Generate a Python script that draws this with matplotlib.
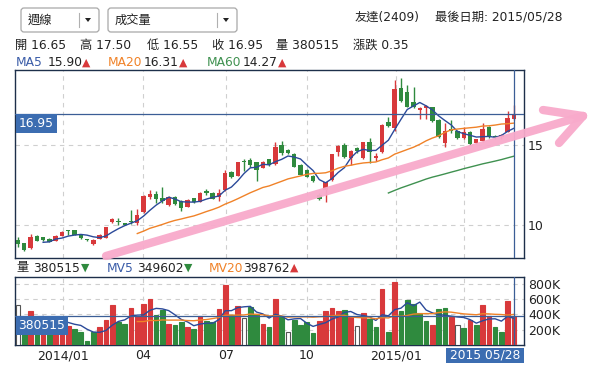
import numpy as np
import pandas as pd
import matplotlib
matplotlib.use('Agg')
import matplotlib.pyplot as plt
from matplotlib.patches import Rectangle, FancyBboxPatch, Polygon

plt.rcParams['font.family'] = ['DejaVu Sans', 'Noto Sans CJK TC']

W, H = 590, 374

# weekly candles, 2013/11 .. 2015/05/28
opens = [9.06, 8.85, 8.54, 9.33, 9.23, 9.13, 9.02, 9.33, 9.67, 9.69,
         9.38, 9.10, 8.81, 9.13, 9.21, 10.17, 10.27, 10.10, 10.27, 10.15,
         10.79, 11.73, 11.92, 11.67, 11.25, 11.77, 11.50, 11.15, 11.67, 11.46,
         12.15, 12.02, 11.73, 12.19, 13.33, 13.08, 14.00, 14.06, 13.92, 13.58,
         14.13, 13.79, 15.00, 14.69, 14.44, 13.75, 13.44, 13.06, 11.90, 12.19,
         12.80, 14.55, 15.00, 14.17, 14.83, 14.21, 15.21, 14.17, 14.54, 16.46,
         16.04, 18.54, 18.33, 17.71, 17.19, 17.29, 17.35, 16.56, 15.10, 16.02,
         15.88, 15.46, 15.79, 15.10, 15.25, 16.15, 15.55, 15.50, 15.83, 16.65]
highs = [9.25, 8.90, 9.42, 9.40, 9.27, 9.17, 9.35, 9.63, 9.69, 9.71,
         9.42, 9.12, 9.10, 9.42, 9.90, 10.45, 10.44, 10.12, 10.94, 10.98,
         11.85, 12.20, 12.10, 12.40, 11.80, 11.80, 11.55, 11.60, 11.70, 12.05,
         12.25, 12.05, 12.25, 13.45, 13.40, 13.95, 14.15, 14.20, 13.92, 14.00,
         14.15, 15.20, 15.25, 14.75, 14.50, 13.80, 13.50, 13.10, 12.00, 12.70,
         14.45, 15.00, 15.10, 14.70, 14.90, 15.20, 15.42, 14.48, 16.30, 16.77,
         19.06, 19.17, 18.75, 18.65, 17.40, 17.50, 17.40, 16.60, 16.35, 16.56,
         15.95, 16.13, 15.85, 15.40, 16.35, 16.20, 15.60, 15.70, 17.10, 17.50]
lows = [8.60, 8.40, 8.50, 8.98, 9.00, 8.94, 8.98, 9.30, 9.40, 9.35,
        9.15, 8.98, 8.77, 9.10, 9.20, 10.10, 10.00, 9.98, 10.05, 10.00,
        10.75, 11.60, 11.35, 11.40, 11.20, 11.25, 10.85, 11.10, 11.40, 11.42,
        11.90, 11.60, 11.50, 12.15, 12.95, 13.05, 13.40, 13.65, 12.75, 13.55,
        13.70, 13.75, 14.40, 14.45, 13.60, 13.10, 13.00, 12.70, 11.55, 11.46,
        12.75, 14.30, 14.20, 13.75, 14.50, 14.15, 13.90, 14.00, 14.50, 16.15,
        15.90, 17.70, 17.35, 17.30, 16.60, 16.60, 16.45, 15.45, 14.90, 15.75,
        15.38, 15.40, 15.00, 15.05, 15.20, 15.45, 15.35, 15.40, 15.80, 16.55]
closes = [8.81, 8.44, 9.27, 9.02, 9.06, 8.96, 9.31, 9.58, 9.63, 9.38,
          9.17, 9.08, 9.06, 9.38, 9.88, 10.38, 10.17, 10.00, 10.17, 10.63,
          11.83, 11.96, 11.63, 11.50, 11.77, 11.29, 11.08, 11.56, 11.46, 12.02,
          11.98, 11.63, 11.98, 13.27, 13.02, 13.92, 13.92, 13.75, 13.44, 13.96,
          13.75, 14.90, 14.48, 14.48, 13.65, 13.13, 13.02, 12.75, 11.63, 12.67,
          14.42, 14.96, 14.27, 14.63, 14.63, 15.17, 14.58, 14.31, 16.25, 16.21,
          18.50, 17.75, 17.40, 17.35, 17.29, 17.46, 16.50, 15.52, 15.90, 15.90,
          15.42, 15.79, 15.04, 15.35, 16.00, 15.52, 15.50, 15.60, 16.67, 16.95]
volumes = [526, 300, 440, 280, 320, 250, 300, 350, 250, 203,
           175, 49, 167, 233, 321, 518, 299, 268, 487, 378,
           531, 597, 396, 452, 268, 255, 299, 233, 203, 378,
           308, 299, 466, 782, 387, 505, 351, 496, 408, 268,
           233, 601, 365, 176, 329, 255, 299, 154, 308, 440,
           488, 440, 453, 365, 242, 422, 343, 233, 729, 176,
           825, 440, 584, 532, 418, 308, 255, 466, 488, 365,
           255, 220, 330, 255, 518, 374, 233, 176, 571, 380.515]
volumes = [v * 1000 for v in volumes]
# r = up vs previous close, g = down, w = unchanged
vol_dir = ('wgrgrgrrrg' 'gggrrrggrr' 'rrggrggrgr' 'ggrrgrwggr'
           'grgwggggrr' 'rrgrwrggrg' 'rgggggrggr' 'wgrgrrggrr')

tick_pos = [7.2, 19.9, 33.1, 46.0, 60.2, 71.0]
# the last month label sits under the date tag
tick_labels = ['2014/01', '04', '07', '10', '2015/01', '']
price_ticks = [10, 15]
vol_ticks = [200000, 400000, 600000, 800000]
vol_tick_labels = ['200K', '400K', '600K', '800K']

RED = '#d8393b'
GREEN = '#2f8a3e'
BLUE = '#2b4a9a'
ORANGE = '#f08228'
MGREEN = '#3f9150'
FRAME = '#1d2f4a'
CURSOR = '#3b5e96'
LABELBG = '#3c6db1'
PINK = '#f8aacb'
GRID = '#cfcfcf'

n = len(closes)
idx = np.arange(n)
cs = pd.Series(closes)
ma5 = cs.rolling(5).mean()
ma20 = cs.rolling(20).mean()
ma60 = cs.rolling(60).mean()
vs = pd.Series(volumes)
mv5 = vs.rolling(5).mean()
mv20 = vs.rolling(20).mean()


def box(x0, y0, x1, y1):
    return [x0 / W, 1 - y1 / H, (x1 - x0) / W, (y1 - y0) / H]


fig = plt.figure(figsize=(W / 100, H / 100), dpi=100)
fig.patch.set_facecolor('white')

xlim = (-0.48, 80.6)

# price panel
ax1 = fig.add_axes(box(15, 70, 524, 258))
ax1.set_xlim(*xlim)
ax1.set_ylim(7.94, 19.69)
ax1.set_axisbelow(True)
ax1.grid(True, ls=(0, (4, 4)), color=GRID, lw=0.8)
ax1.set_xticks(tick_pos)
ax1.set_xticklabels([])
ax1.set_yticks(price_ticks)
ax1.yaxis.tick_right()
ax1.tick_params(length=0, labelsize=9, colors='#222222', pad=3)
for s in ax1.spines.values():
    s.set_color(FRAME)
    s.set_linewidth(1)

for i in range(n):
    o, h, l, c = opens[i], highs[i], lows[i], closes[i]
    col = RED if c >= o else GREEN
    ax1.vlines(i, l, h, color=col, lw=1, zorder=3)
    ax1.bar(i, max(abs(c - o), 0.04), bottom=min(o, c), width=0.7,
            color=col, zorder=3)
ax1.plot(idx, ma5, color=BLUE, lw=1, zorder=4)
ax1.plot(idx, ma20, color=ORANGE, lw=1, zorder=4)
ax1.plot(idx, ma60, color=MGREEN, lw=1, zorder=4)
ax1.axhline(closes[-1], color=CURSOR, lw=0.9, zorder=5)
ax1.axvline(n - 1, color=CURSOR, lw=0.9, zorder=5)

# volume panel
ax2 = fig.add_axes(box(15, 277, 524, 345))
ax2.set_xlim(*xlim)
ax2.set_ylim(0, 887000)
ax2.set_axisbelow(True)
ax2.grid(True, ls=(0, (4, 4)), color=GRID, lw=0.8)
ax2.set_xticks(tick_pos)
ax2.set_xticklabels(tick_labels)
ax2.set_yticks(vol_ticks)
ax2.set_yticklabels(vol_tick_labels)
ax2.yaxis.tick_right()
ax2.tick_params(length=0, labelsize=9, colors='#222222', pad=3)
for s in ax2.spines.values():
    s.set_color(FRAME)
    s.set_linewidth(1)

face = {'r': RED, 'g': GREEN, 'w': 'white'}
edge = {'r': RED, 'g': GREEN, 'w': '#555555'}
ax2.bar(idx, volumes, width=0.74,
        color=[face[d] for d in vol_dir],
        edgecolor=[edge[d] for d in vol_dir], lw=0.8, zorder=3)
ax2.plot(idx, mv5, color=BLUE, lw=1, zorder=4)
ax2.plot(idx, mv20, color=ORANGE, lw=1, zorder=4)
ax2.axhline(volumes[-1], color=CURSOR, lw=0.9, zorder=5)
ax2.axvline(n - 1, color=CURSOR, lw=0.9, zorder=5)

# overlay in pixel coordinates for header, labels and the pink arrow
ov = fig.add_axes([0, 0, 1, 1])
ov.set_xlim(0, W)
ov.set_ylim(H, 0)
ov.axis('off')
ov.patch.set_alpha(0)
ov.set_zorder(10)

FS = 8.8


def txt(x, y, s, color='#222222', size=FS, ha='left'):
    ov.text(x, y, s, color=color, fontsize=size, ha=ha, va='center')


# dropdowns
for (x0, x1, sep, label) in [(21, 99, 79, '週線'), (108, 237, 217, '成交量')]:
    ov.add_patch(FancyBboxPatch((x0, 8), x1 - x0, 24,
                                boxstyle='round,pad=0,rounding_size=3',
                                fc='white', ec='#a8a8a8', lw=0.9))
    ov.plot([sep, sep], [13, 27], color='#b0b0b0', lw=0.8)
    ov.add_patch(Polygon([[sep + 6, 18], [sep + 12, 18], [sep + 9, 22]],
                         closed=True, fc='#222222', ec='none'))
    txt(x0 + 7, 20, label, size=FS)

txt(355, 17, '友達(2409)')
txt(435, 17, '最後日期: 2015/05/28')

for x, s in [(15, '開 16.65'), (80, '高 17.50'), (147, '低 16.55'),
             (212, '收 16.95'), (276, '量 380515'), (353, '漲跌 0.35')]:
    txt(x, 45, s)

for x, name, vx, val, tx, col in [(16, 'MA5', 48, '15.90', 82, '#3a5ca8'),
                                  (108, 'MA20', 144, '16.31', 179, ORANGE),
                                  (207, 'MA60', 243, '14.27', 278, MGREEN)]:
    txt(x, 62.5, name, color=col)
    txt(vx, 62.5, val)
    txt(tx, 62.5, '▲', color=RED, size=FS - 1)

txt(16, 268, '量')
txt(33, 268, '380515')
txt(81, 268, '▼', color=GREEN, size=FS - 1)
txt(107, 268, 'MV5', color='#3a5ca8')
txt(137, 268, '349602')
txt(184, 268, '▼', color=GREEN, size=FS - 1)
txt(209, 268, 'MV20', color=ORANGE)
txt(243, 268, '398762')
txt(290, 268, '▲', color=RED, size=FS - 1)

# value tags
ov.add_patch(Rectangle((16, 113.5), 41, 19.5, fc=LABELBG, ec='none'))
txt(36.5, 123.5, '16.95', color='white', ha='center')
ov.add_patch(Rectangle((16, 316), 52, 19, fc=LABELBG, ec='none'))
txt(42, 325.5, '380515', color='white', ha='center')
ov.add_patch(Rectangle((446, 348), 78, 14.5, fc=LABELBG, ec='none'))
txt(485, 355, '2015 05/28', color='white', ha='center')

# pink trend arrow
akw = dict(color=PINK, lw=6, solid_capstyle='round', alpha=0.95)
ov.plot([106, 583], [256, 116], **akw)
ov.plot([583, 543], [116, 110], **akw)
ov.plot([583, 559], [116, 143], **akw)

fig.savefig('out.png', dpi=100)
